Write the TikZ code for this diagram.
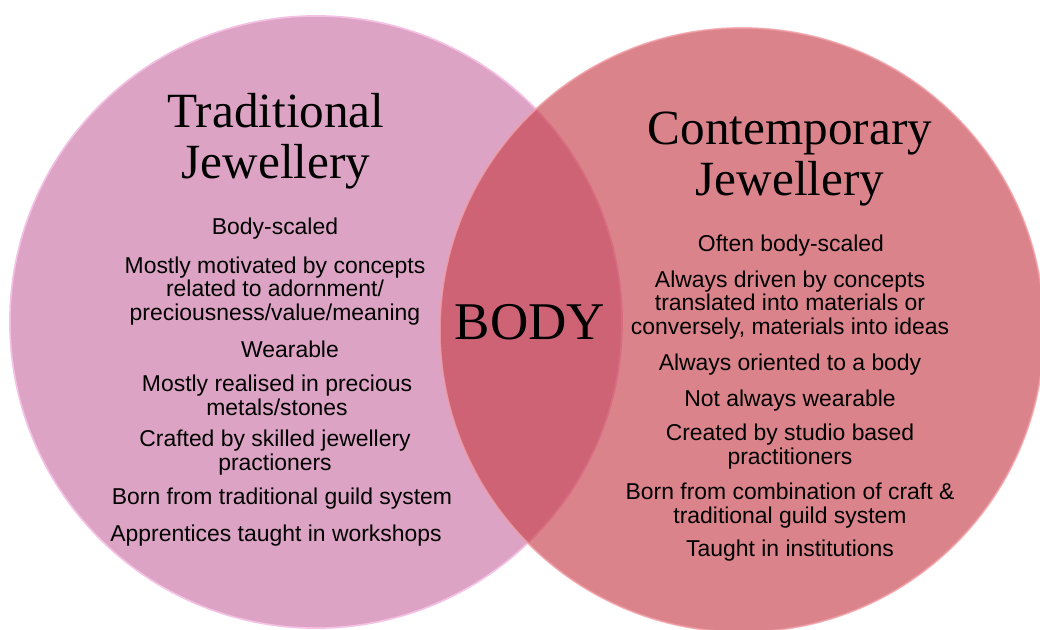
\documentclass[tikz,border=0pt]{standalone}
\usepackage{fontspec}
\setmainfont{Liberation Serif}
\setsansfont{Liberation Sans}
\usepackage{tikz}
\usetikzlibrary{shapes}
\definecolor{tradpink}{RGB}{220,163,196}
\definecolor{tradrim}{RGB}{244,192,228}
\definecolor{contred}{RGB}{200,65,77}
\definecolor{controm}{RGB}{242,160,168}
\tikzstyle{trad set}=[circle,fill=tradpink,draw=tradrim,line width=1.2pt,minimum size=15.3cm,inner sep=0pt]
\tikzstyle{cont set}=[circle,fill=contred,fill opacity=0.65,draw=controm,draw opacity=0.8,line width=1.2pt,minimum size=15.1cm,inner sep=0pt]
\tikzstyle{title}=[font=\fontsize{35}{36}\selectfont,align=center,inner sep=0pt]
\tikzstyle{item}=[font=\sffamily\fontsize{16.3}{17}\selectfont,align=center,inner sep=0pt]

\begin{document}
\begin{tikzpicture}[x=0.025cm,y=-0.025cm]
        \useasboundingbox (0,0) rectangle (1040,630);
        % the two sets
        \node[trad set] (trad) at (316,322) {};
        \node[cont set] (cont) at (742,330) {};
        % headings
        \node[title] (tradtitle) at (276,141) {Traditional\\Jewellery};
        \node[title] (conttitle) at (790,159) {Contemporary\\Jewellery};
        \node[font=\fontsize{37.7}{40}\selectfont,inner sep=0pt] (body) at (530,322) {BODY};
        % traditional side
        \node[item] (t1) at (275,229) {Body-scaled};
        \node[item] (t2) at (275,291) {Mostly motivated by concepts\\related to adornment/\\preciousness/value/meaning};
        \node[item] (t3) at (290,349) {Wearable};
        \node[item] (t4) at (277,395) {Mostly realised in precious\\metals/stones};
        \node[item] (t5) at (275,453) {Crafted by skilled jewellery\\practioners};
        \node[item] (t6) at (282,499) {Born from traditional guild system};
        \node[item] (t7) at (276,536) {Apprentices taught in workshops};
        % contemporary side
        \node[item] (c1) at (791,246) {Often body-scaled};
        \node[item] (c2) at (790,305) {Always driven by concepts\\translated into materials or\\conversely, materials into ideas};
        \node[item] (c3) at (790,365) {Always oriented to a body};
        \node[item] (c4) at (790,401) {Not always wearable};
        \node[item] (c5) at (790,447) {Created by studio based\\practitioners};
        \node[item] (c6) at (790,506) {Born from combination of craft \&\\traditional guild system};
        \node[item] (c7) at (790,551) {Taught in institutions};
      \end{tikzpicture}
\end{document}
